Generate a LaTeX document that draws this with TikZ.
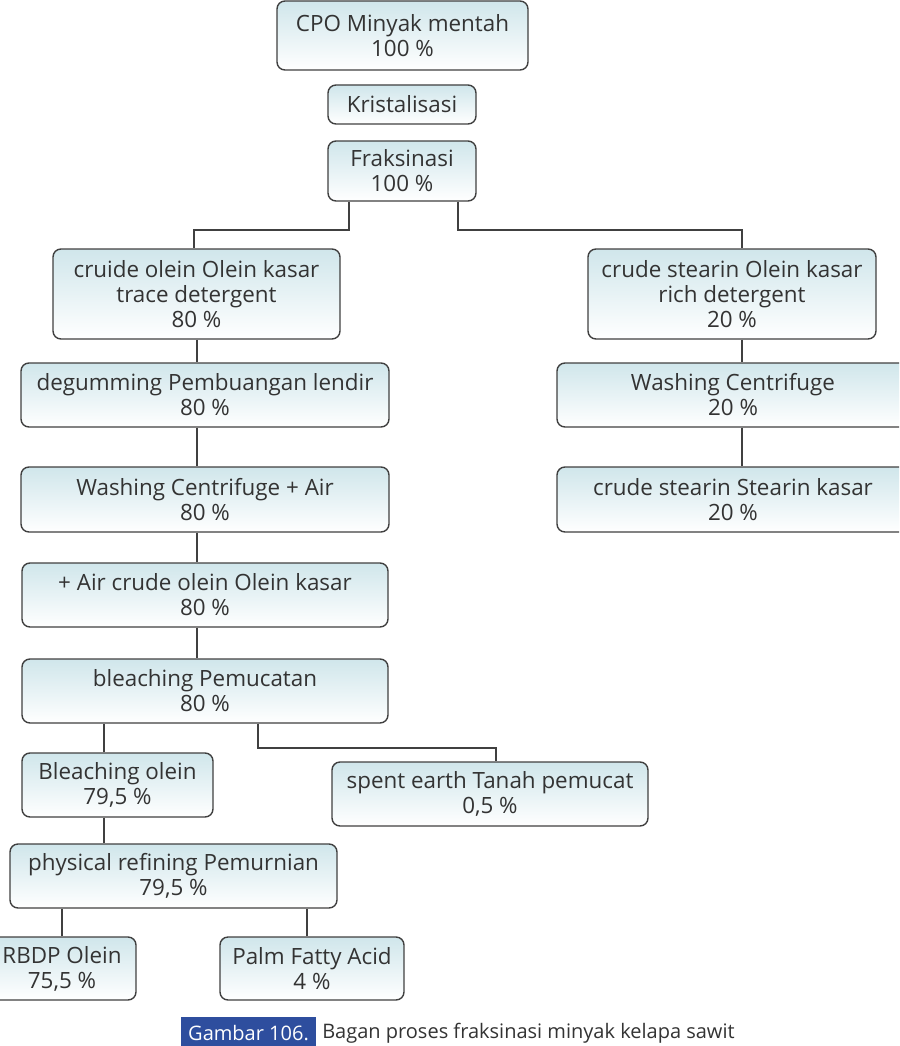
\documentclass[tikz,border=0pt]{standalone}
\usepackage{fontspec}
\setmainfont{Open Sans}
\usepackage{tikz}
\definecolor{boxline}{RGB}{64,64,64}
\definecolor{boxtop}{RGB}{208,230,235}
\definecolor{captionblue}{RGB}{46,78,158}
\definecolor{boxtext}{RGB}{51,51,51}
\tikzset{
	procbox/.style = {draw=boxline, line width=1.4pt, rounded corners=8pt, top color=boxtop, bottom color=white, text=boxtext, align=center, inner sep=0pt, font=\fontsize{22.4}{25}\selectfont},
	flow/.style = {draw=boxline, line width=2pt}
}

\begin{document}
\begin{tikzpicture}[x = 1pt, y = -1pt]
		\clip (0,0) rectangle (899,1046);
		% top of the chart
		\node [procbox, minimum width=251pt, minimum height=69pt] (cpo) at (402.5,35.5) {CPO Minyak mentah\\100 \%};
		\node [procbox, minimum width=148pt, minimum height=39pt] (krist) at (402,104.5) {Kristalisasi};
		\node [procbox, minimum width=148pt, minimum height=60pt] (fraks) at (402,171) {Fraksinasi\\100 \%};
		% olein branch
		\node [procbox, minimum width=287pt, minimum height=90pt] (colein) at (196.5,294) {cruide olein Olein kasar\\trace detergent\\80 \%};
		\node [procbox, minimum width=368pt, minimum height=64pt] (degum) at (205,395) {degumming Pembuangan lendir\\80 \%};
		\node [procbox, minimum width=368pt, minimum height=65pt] (wash) at (205,499.5) {Washing Centrifuge + Air\\80 \%};
		\node [procbox, minimum width=366pt, minimum height=64pt] (airolein) at (205,595) {+ Air crude olein Olein kasar\\80 \%};
		\node [procbox, minimum width=366pt, minimum height=64pt] (bleach) at (205,691) {bleaching Pemucatan\\80 \%};
		\node [procbox, minimum width=191pt, minimum height=64pt] (bolein) at (117.5,785) {Bleaching olein\\79,5 \%};
		\node [procbox, minimum width=316pt, minimum height=64pt] (spent) at (490,794) {spent earth Tanah pemucat\\0,5 \%};
		\node [procbox, minimum width=327pt, minimum height=64pt] (phys) at (173.5,876) {physical refining Pemurnian\\79,5 \%};
		\node [procbox, minimum width=148pt, minimum height=63pt] (rbdp) at (62,968.5) {RBDP Olein\\75,5 \%};
		\node [procbox, minimum width=184pt, minimum height=63pt] (pfa) at (312,968.5) {Palm Fatty Acid\\4 \%};
		% stearin branch
		\node [procbox, minimum width=288pt, minimum height=90pt] (cstearin) at (732,294) {crude stearin Olein kasar\\rich detergent\\20 \%};
		\node [procbox, minimum width=352pt, minimum height=64pt] (washr) at (733,395) {Washing Centrifuge\\20 \%};
		\node [procbox, minimum width=352pt, minimum height=65pt] (sstearin) at (733,499.5) {crude stearin Stearin kasar\\20 \%};
		% connectors
		\draw [flow] ([xshift=-53pt]fraks.south) -- ++(0,28) -| ([xshift=-2.5pt]colein.north);
		\draw [flow] ([xshift=56pt]fraks.south) -- ++(0,28) -| ([xshift=10pt]cstearin.north);
		\draw [flow] (colein.south) -- (colein.south |- degum.north);
		\draw [flow] ([xshift=-8pt]degum.south) -- ([xshift=-8pt]wash.north);
		\draw [flow] ([xshift=-8pt]wash.south) -- ([xshift=-8pt]airolein.north);
		\draw [flow] ([xshift=-8pt]airolein.south) -- ([xshift=-8pt]bleach.north);
		\draw [flow] ([xshift=10pt]cstearin.south) -- ([xshift=9pt]washr.north);
		\draw [flow] ([xshift=9pt]washr.south) -- ([xshift=9pt]sstearin.north);
		\draw [flow] ([xshift=-14pt]bolein.north) -- ([xshift=-14pt]bolein.north |- bleach.south);
		\draw [flow] ([xshift=53pt]bleach.south) -- ++(0,24) -| ([xshift=6pt]spent.north);
		\draw [flow] ([xshift=-14pt]bolein.south) -- ([xshift=-14pt]bolein.south |- phys.north);
		\draw [flow] (rbdp.north) -- (rbdp.north |- phys.south);
		\draw [flow] ([xshift=-5pt]pfa.north) -- ([xshift=-5pt]pfa.north |- phys.south);
		% caption
		\node [fill=captionblue, text=white, inner xsep=7pt, minimum height=32pt, anchor=north west, font=\fontsize{20}{24}\selectfont] (capnum) at (181,1017) {Gambar 106.};
		\node [anchor=west, text=boxtext, inner xsep=6pt, font=\fontsize{20}{24}\selectfont] (captext) at (capnum.east) {Bagan proses fraksinasi minyak kelapa sawit};
	\end{tikzpicture}
\end{document}
